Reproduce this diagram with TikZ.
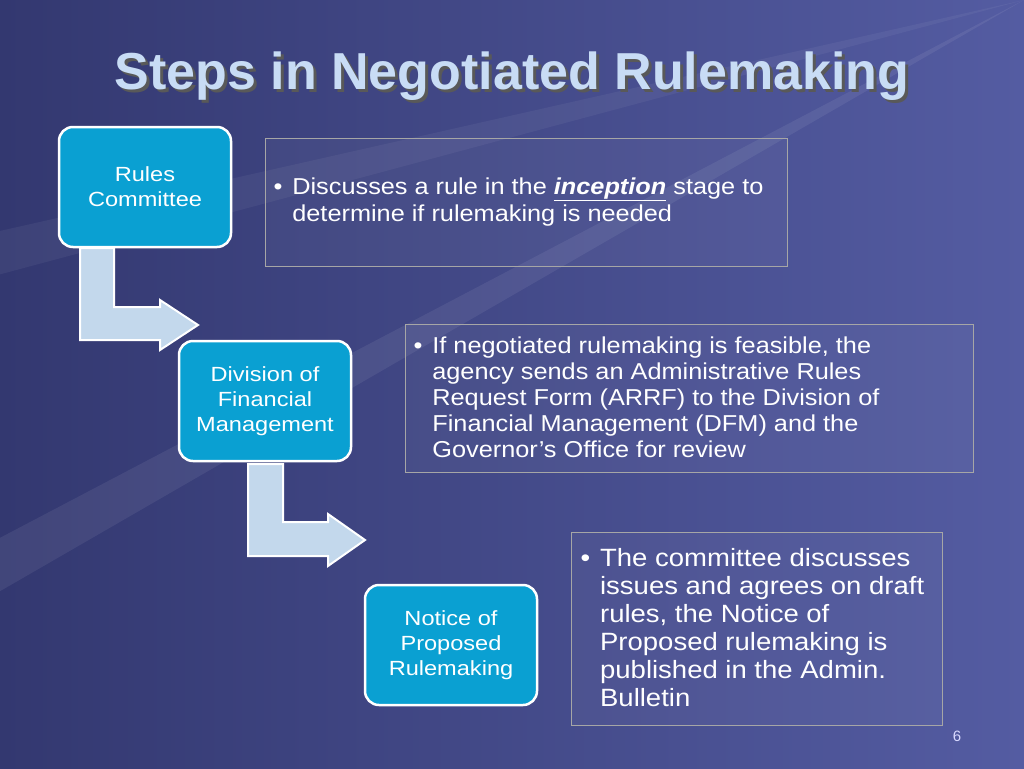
\documentclass[tikz,border=0pt]{standalone}
\usepackage{fontspec}
\setmainfont{Liberation Sans}
\newfontfamily\widef[FakeStretch=1.1]{Liberation Sans}
\newfontfamily\widerf[FakeStretch=1.15]{Liberation Sans}
\newcommand{\ttl}{Steps in Negotiated Rulemaking}
\newcommand{\bsp}{\phantom{\textbullet\hspace{10pt}}}
\begin{document}
\begin{tikzpicture}[x=1pt,y=-1pt,
  stepbox/.style={draw=white,line width=2.5pt,rounded corners=14pt,fill=cbox,text=white,align=center,font=\widerf\fontsize{20.5}{25}\selectfont,minimum width=172pt,minimum height=120pt,inner sep=0pt},
  txtbox/.style={draw=gray!70,line width=1pt,fill=white,fill opacity=0.04,text opacity=1,text=white,align=left,inner sep=0pt,anchor=north west},
  barrow/.style={fill=carr,draw=white,line width=2pt,line join=miter}]
\definecolor{cbox}{HTML}{0AA0D2}
\definecolor{carr}{HTML}{C3D8EC}
\definecolor{bgd}{HTML}{333870}
\definecolor{bgl}{HTML}{545CA2}
\definecolor{ttlc}{HTML}{C8DCF5}
\useasboundingbox (0,0) rectangle (1024,768);
\shade[left color=bgd,right color=bgl] (0,0) rectangle (1024,768);
\foreach \a/\o in {150/0.07,165/0.05,180/0.06,195/0.05,210/0.07,225/0.05,240/0.06,255/0.05}{
  \fill[white,opacity=\o] (1024,0) -- ++(\a:1500) -- ++(\a+90:60) -- cycle;}
\node (title) [text=ttlc,font=\fontsize{52}{56}\bfseries] at (512,78) {\rlap{\hspace{3pt}\raisebox{-3pt}{\color{black!65}\ttl}}\ttl};
\node[stepbox] (rc) at (145,187) {Rules\\Committee};
\node[stepbox] (dfm) at (265,401) {Division of\\Financial\\Management};
\node[stepbox] (npr) at (451,645) {Notice of\\Proposed\\Rulemaking};
\draw[barrow] (80,248) -- (114,248) -- (114,307) -- (160,307) -- (160,300) -- (198,325) -- (160,350) -- (160,340) -- (80,340) -- cycle;
\draw[barrow] (248,464) -- (283,464) -- (283,522) -- (328,522) -- (328,514) -- (365,540) -- (328,566) -- (328,556) -- (248,556) -- cycle;
\draw[txtbox] (265,138) rectangle (787,266);
\node[txtbox,draw=none,fill=none,font=\widef\fontsize{23}{27}\selectfont] (t1) at (273,177) {\textbullet\hspace{10pt}Discusses a rule in the \underline{\textbf{\textit{inception}}} stage to\\\bsp determine if rulemaking is needed};
\draw[txtbox] (405,324) rectangle (973,472);
\node[txtbox,draw=none,fill=none,font=\widef\fontsize{23}{26}\selectfont] (t2) at (413,336) {\textbullet\hspace{10pt}If negotiated rulemaking is feasible, the\\\bsp agency sends an Administrative Rules\\\bsp Request Form (ARRF) to the Division of\\\bsp Financial Management (DFM) and the\\\bsp Governor’s Office for review};
\draw[txtbox] (571,532) rectangle (942,725);
\node[txtbox,draw=none,fill=none,font=\widef\fontsize{25}{28}\selectfont] (t3) at (580,548) {\textbullet\hspace{10pt}The committee discusses\\\bsp issues and agrees on draft\\\bsp rules, the Notice of\\\bsp Proposed rulemaking is\\\bsp published in the Admin.\\\bsp Bulletin};
\node[text=white!85!blue,font=\fontsize{15}{18}\selectfont] (pg) at (957,736) {6};
\end{tikzpicture}
\end{document}
